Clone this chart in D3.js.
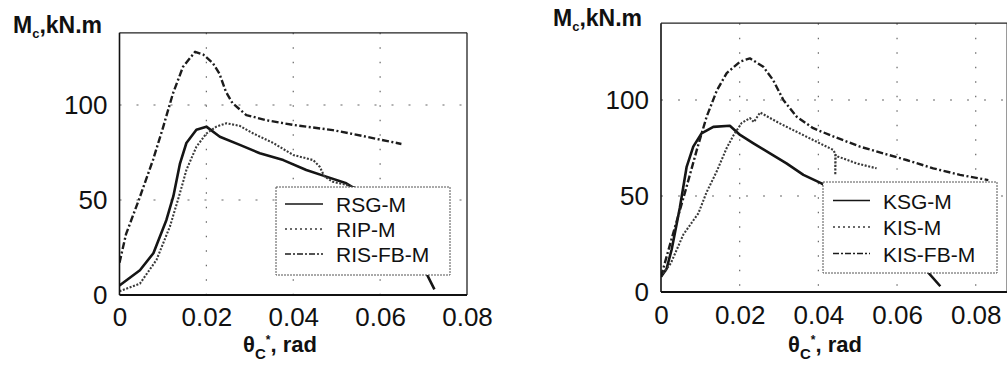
<!DOCTYPE html>
<html>
<head>
<meta charset="utf-8">
<script src="https://cdn.jsdelivr.net/npm/d3@7"></script>
<style>
  body { margin: 0; background: #fff; }
  svg { display: block; font-family: "Liberation Sans", Arial, sans-serif; }
</style>
</head>
<body>
<div id="chart"></div>
<script>
// tick values and labels
const xTicks = [0, 0.02, 0.04, 0.06, 0.08];
const xTickLabels = ["0", "0.02", "0.04", "0.06", "0.08"];
const yTicks = [0, 50, 100];

// left panel: rotation (rad), moment (kN.m)
const leftNames = ["RSG-M", "RIP-M", "RIS-FB-M"];
const rsgM = [[0, 5], [0.0047, 13], [0.0078, 22], [0.0108, 39.5], [0.0124, 52], [0.0139, 69], [0.0154, 80],
  [0.0177, 87], [0.020, 88.6], [0.0231, 83.3], [0.0277, 79], [0.0323, 74.6], [0.0377, 71], [0.043, 65.8],
  [0.0476, 62.3], [0.0522, 58.8], [0.06, 48], [0.067, 28], [0.0725, 3]];
const ripM = [[0, 2], [0.0047, 6], [0.0085, 18.4], [0.0116, 36], [0.0139, 53.5], [0.0154, 65.8], [0.0177, 78],
  [0.020, 85], [0.0223, 88.6], [0.0246, 90.4], [0.0277, 89], [0.0308, 85], [0.0354, 80], [0.040, 73.7],
  [0.0446, 71], [0.0461, 67.5], [0.0472, 62.3], [0.0491, 59.6], [0.0522, 58], [0.055, 56]];
const risFbM = [[0, 17], [0.0015, 32], [0.0046, 51], [0.0077, 71], [0.01, 88], [0.0123, 106], [0.0146, 120],
  [0.0174, 128], [0.0193, 126.5], [0.0215, 122], [0.023, 116.5], [0.0245, 107], [0.026, 101], [0.0292, 94.7],
  [0.0338, 92], [0.04, 89.5], [0.0491, 86.8], [0.0568, 83.3], [0.0649, 79.5]];

// right panel
const rightNames = ["KSG-M", "KIS-M", "KIS-FB-M"];
const ksgM = [[0, 8], [0.0014, 12], [0.0027, 22], [0.0048, 44], [0.0065, 65], [0.0082, 75.7], [0.0103, 82.6],
  [0.0133, 86], [0.0175, 86.6], [0.0201, 81.8], [0.0235, 77.4], [0.0277, 72.2], [0.0319, 67], [0.0362, 61],
  [0.0408, 56.6], [0.05, 45], [0.06, 28], [0.068, 10], [0.071, 3]];
const kisM = [[0, 8], [0.0025, 15], [0.0057, 30], [0.0095, 41], [0.0116, 52], [0.0142, 63], [0.0167, 75],
  [0.0184, 81.5], [0.0205, 88], [0.0226, 90.6], [0.0236, 88.5], [0.0252, 93.5], [0.0302, 87.8], [0.0353, 82.6],
  [0.0404, 77.4], [0.0438, 74], [0.0443, 72], [0.0443, 61], [0.0444, 71.5], [0.045, 70.5], [0.0497, 67],
  [0.0548, 64.4]];
const kisFbM = [[0, 8], [0.0031, 30.6], [0.0065, 54.8], [0.0091, 74], [0.0116, 91.3], [0.0142, 105],
  [0.0167, 114], [0.0201, 120], [0.0226, 121.7], [0.026, 117.3], [0.0285, 110.4], [0.0311, 100],
  [0.0345, 91.3], [0.0387, 85.3], [0.0438, 81], [0.0506, 75.7], [0.0565, 72.2], [0.0624, 68.75],
  [0.0692, 64.4], [0.076, 61], [0.0832, 58.3]];

const lineStyles = [
    { dash: null, width: 2.6, color: "#151515", legendDash: null },
    { dash: "2,1.6", width: 2.1, color: "#3a3a3a", legendDash: "2,3" },
    { dash: "7,2.5,2,2.5", width: 2.4, color: "#1c1c1c", legendDash: "6,2,2,2" }
];

const svg = d3.select("#chart")
    .append("svg")
    .attr("width", 1007)
    .attr("height", 387);

function renderPanel(p) {
    const x = d3.scaleLinear().domain([0, p.xMax]).range([p.left, p.right]);
    const y = d3.scaleLinear().domain([0, p.yMax]).range([p.bottom, p.top]);
    const g = svg.append("g");

    g.append("clipPath").attr("id", p.id + "-clip")
        .append("rect")
        .attr("x", p.left).attr("y", p.top)
        .attr("width", p.right - p.left).attr("height", p.bottom - p.top);

    // dotted grid
    g.selectAll(".gx")
        .data(p.gridX)
        .enter().append("line")
        .attr("x1", d => x(d)).attr("x2", d => x(d))
        .attr("y1", p.top).attr("y2", p.bottom)
        .style("stroke", "#666")
        .style("stroke-width", 1.2)
        .style("stroke-dasharray", "1.5,13");

    g.selectAll(".gy")
        .data(yTicks.filter(d => d > 0))
        .enter().append("line")
        .attr("x1", p.left).attr("x2", p.right)
        .attr("y1", d => y(d)).attr("y2", d => y(d))
        .style("stroke", "#666")
        .style("stroke-width", 1.2)
        .style("stroke-dasharray", "2,15");

    // curves
    const line = d3.line()
        .x(d => x(d[0]))
        .y(d => y(d[1]));

    g.append("g").attr("clip-path", "url(#" + p.id + "-clip)")
        .selectAll("path")
        .data(p.series)
        .enter().append("path")
        .attr("d", d => line(d))
        .style("fill", "none")
        .style("stroke", (d, i) => lineStyles[i].color)
        .style("stroke-width", (d, i) => lineStyles[i].width)
        .style("stroke-dasharray", (d, i) => lineStyles[i].dash)
        .style("stroke-linejoin", "round");

    // frame
    g.append("line")
        .attr("x1", p.left).attr("x2", p.right).attr("y1", p.top).attr("y2", p.top)
        .style("stroke", "#222").style("stroke-width", 1.3);
    g.append("line")
        .attr("x1", p.right).attr("x2", p.right).attr("y1", p.top).attr("y2", p.bottom)
        .style("stroke", "#222").style("stroke-width", 1.3);
    g.append("line")
        .attr("x1", p.left).attr("x2", p.left).attr("y1", p.top).attr("y2", p.bottom)
        .style("stroke", "#111").style("stroke-width", 1.6);
    g.append("line")
        .attr("x1", p.left).attr("x2", p.right).attr("y1", p.bottom).attr("y2", p.bottom)
        .style("stroke", "#111").style("stroke-width", 2.2);

    // axes labels
    const xAxis = g.append("g")
        .attr("transform", "translate(0," + p.bottom + ")")
        .call(d3.axisBottom(x).tickValues(xTicks).tickSize(0).tickPadding(p.xPad)
            .tickFormat((d, i) => xTickLabels[i]));
    const yAxis = g.append("g")
        .attr("transform", "translate(" + p.left + ",0)")
        .call(d3.axisLeft(y).tickValues(yTicks).tickSize(0).tickPadding(12));
    [xAxis, yAxis].forEach(a => {
        a.select(".domain").remove();
        a.selectAll("text")
            .style("font-family", "'Liberation Sans', Arial, sans-serif")
            .style("font-size", "26px")
            .style("fill", "#111");
    });

    // y title
    const yt = g.append("text")
        .attr("x", p.yTitleX).attr("y", p.yTitleY)
        .style("font-size", "23px").style("font-weight", "bold").style("fill", "#111");
    yt.append("tspan").text("M");
    yt.append("tspan").text("c").attr("dy", 5).style("font-size", "13px");
    yt.append("tspan").text(",kN.m").attr("dy", -5);

    // x title
    const xt = g.append("text")
        .attr("x", p.xTitleX).attr("y", p.xTitleY)
        .style("font-size", "22px").style("font-weight", "bold").style("fill", "#111");
    xt.append("tspan").text("θ");
    xt.append("tspan").text("C").attr("dy", 7).style("font-size", "15px");
    xt.append("tspan").text("*").attr("dy", -15).style("font-size", "12px");
    xt.append("tspan").text(", rad").attr("dy", 8);

    // legend
    const lg = g.append("g");
    lg.append("rect")
        .attr("x", p.legX).attr("y", p.legY)
        .attr("width", p.legW).attr("height", p.legH)
        .style("fill", "#fff")
        .style("stroke", "#555")
        .style("stroke-width", 1)
        .style("stroke-dasharray", "2,1");

    const items = lg.selectAll(".legend")
        .data(p.names)
        .enter().append("g")
        .attr("class", "legend")
        .attr("transform", (d, i) => "translate(" + p.legX + "," + (p.legFirst + i * p.legStep) + ")");

    items.append("line")
        .attr("x1", p.sampleX0).attr("x2", p.sampleX1)
        .attr("y1", -8).attr("y2", -8)
        .style("stroke", (d, i) => lineStyles[i].color)
        .style("stroke-width", 1.4)
        .style("stroke-dasharray", (d, i) => lineStyles[i].legendDash);

    items.append("text")
        .attr("x", p.textX)
        .attr("y", 0)
        .style("font-size", "21px")
        .style("fill", "#111")
        .text(d => d);
}

renderPanel({
    id: "left", left: 119.5, right: 467, top: 32.8, bottom: 295, xMax: 0.08, yMax: 138,
    gridX: [0.02, 0.04, 0.06], series: [rsgM, ripM, risFbM], names: leftNames, xPad: 12.5,
    yTitleX: 13, yTitleY: 33, xTitleX: 243, xTitleY: 352,
    legX: 276, legY: 187, legW: 174, legH: 88, legFirst: 212, legStep: 25,
    sampleX0: 9, sampleX1: 47, textX: 60
});

renderPanel({
    id: "right", left: 661, right: 1007.2, top: 23.2, bottom: 292, xMax: 0.088, yMax: 140,
    gridX: [0.02, 0.04, 0.06, 0.08], series: [ksgM, kisM, kisFbM], names: rightNames, xPad: 13.5,
    yTitleX: 553, yTitleY: 26, xTitleX: 788, xTitleY: 352,
    legX: 823, legY: 182, legW: 174, legH: 91, legFirst: 208.5, legStep: 26.5,
    sampleX0: 10, sampleX1: 47, textX: 60
});
</script>
</body>
</html>
